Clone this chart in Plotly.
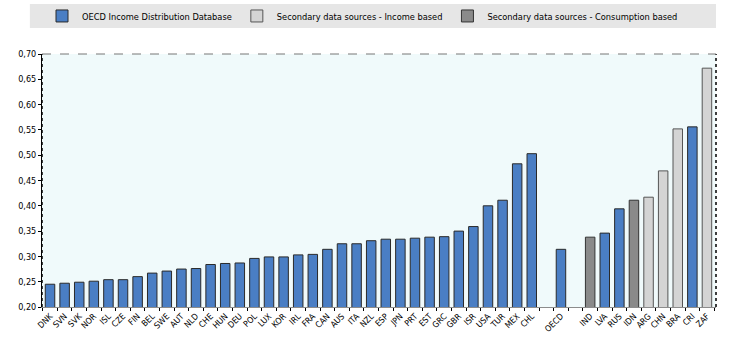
import plotly.graph_objects as go

# ---- data ----
categories = ["DNK", "SVN", "SVK", "NOR", "ISL", "CZE", "FIN", "BEL", "SWE", "AUT",
              "NLD", "CHE", "HUN", "DEU", "POL", "LUX", "KOR", "IRL", "FRA", "CAN",
              "AUS", "ITA", "NZL", "ESP", "JPN", "PRT", "EST", "GRC", "GBR", "ISR",
              "USA", "TUR", "MEX", "CHL", " ", "OECD", "  ",
              "IND", "LVA", "RUS", "IDN", "ARG", "CHN", "BRA", "CRI", "ZAF"]

idd_labels = ["DNK", "SVN", "SVK", "NOR", "ISL", "CZE", "FIN", "BEL", "SWE", "AUT",
              "NLD", "CHE", "HUN", "DEU", "POL", "LUX", "KOR", "IRL", "FRA", "CAN",
              "AUS", "ITA", "NZL", "ESP", "JPN", "PRT", "EST", "GRC", "GBR", "ISR",
              "USA", "TUR", "MEX", "CHL", "OECD", "LVA", "RUS", "CRI"]
idd_values = [0.245, 0.247, 0.249, 0.251, 0.254, 0.254, 0.260, 0.267, 0.271, 0.275,
              0.276, 0.284, 0.286, 0.287, 0.296, 0.299, 0.299, 0.303, 0.304, 0.314,
              0.325, 0.325, 0.331, 0.334, 0.334, 0.336, 0.338, 0.339, 0.350, 0.359,
              0.400, 0.411, 0.483, 0.503, 0.314, 0.346, 0.394, 0.556]

income_labels = ["ARG", "CHN", "BRA", "ZAF"]
income_values = [0.417, 0.469, 0.552, 0.672]

cons_labels = ["IND", "IDN"]
cons_values = [0.338, 0.411]

y_ticks = [0.20, 0.25, 0.30, 0.35, 0.40, 0.45, 0.50, 0.55, 0.60, 0.65, 0.70]

FONT = "DejaVu Sans Condensed, Liberation Sans Narrow, Arial Narrow, sans-serif"

fig = go.Figure()
fig.add_trace(go.Bar(x=idd_labels, y=idd_values, name="OECD Income Distribution Database",
                     marker=dict(color="#4a7ec4", line=dict(color="#2a2a2a", width=1))))
fig.add_trace(go.Bar(x=income_labels, y=income_values, name="Secondary data sources - Income based",
                     marker=dict(color="#d4d4d4", line=dict(color="#555555", width=1))))
fig.add_trace(go.Bar(x=cons_labels, y=cons_values, name="Secondary data sources - Consumption based",
                     marker=dict(color="#8a8a8a", line=dict(color="#333333", width=1))))

fig.update_layout(
    width=729, height=347,
    margin=dict(l=42, r=13, t=54, b=40),
    paper_bgcolor="white",
    plot_bgcolor="#f0fafb",
    barmode="overlay",
    bargap=0.35,
    separators=", ",
    font=dict(family=FONT, size=10, color="#000000"),
    showlegend=True,
    legend=dict(orientation="h", x=0, xanchor="left", y=0.954, yanchor="middle",
                yref="container",
                bgcolor="rgba(0,0,0,0)",
                font=dict(family=FONT, size=9.2, color="#000000"),
                itemwidth=30, traceorder="normal", itemclick=False),
    shapes=[dict(type="rect", xref="paper", yref="paper", x0=-0.018, x1=1.0, y0=1.103, y1=1.198,
                 fillcolor="#e6e6e6", line=dict(width=0), layer="below")],
)

fig.update_xaxes(
    type="category", categoryorder="array", categoryarray=categories,
    range=[-0.55, 45.62],
    tickangle=-45, tickfont=dict(family=FONT, size=8.5, color="#000000"),
    showline=True, linecolor="#8c8c8c", linewidth=1,
    ticks="outside", ticklen=3, tickcolor="#000000", tickson="boundaries",
    showgrid=False, mirror=False,
)
fig.update_yaxes(
    range=[0.20, 0.70], tickvals=y_ticks, tickformat=".2f",
    tickfont=dict(family=FONT, size=9, color="#000000"),
    showline=True, linecolor="#000000", linewidth=1,
    ticks="outside", ticklen=3, tickcolor="#000000",
    showgrid=False, zeroline=False,
)

# dotted left/right borders and dashed top border
fig.add_shape(type="line", xref="paper", yref="paper", x0=0, x1=0, y0=0, y1=1,
              line=dict(color="#000000", width=1.5, dash="dot"))
fig.add_shape(type="line", xref="paper", yref="paper", x0=1, x1=1, y0=0, y1=1,
              line=dict(color="#000000", width=1.5, dash="dot"))
fig.add_shape(type="line", xref="paper", yref="paper", x0=0, x1=1, y0=1, y1=1,
              line=dict(color="#777777", width=1, dash="dash"))

fig.write_html("out.html")
